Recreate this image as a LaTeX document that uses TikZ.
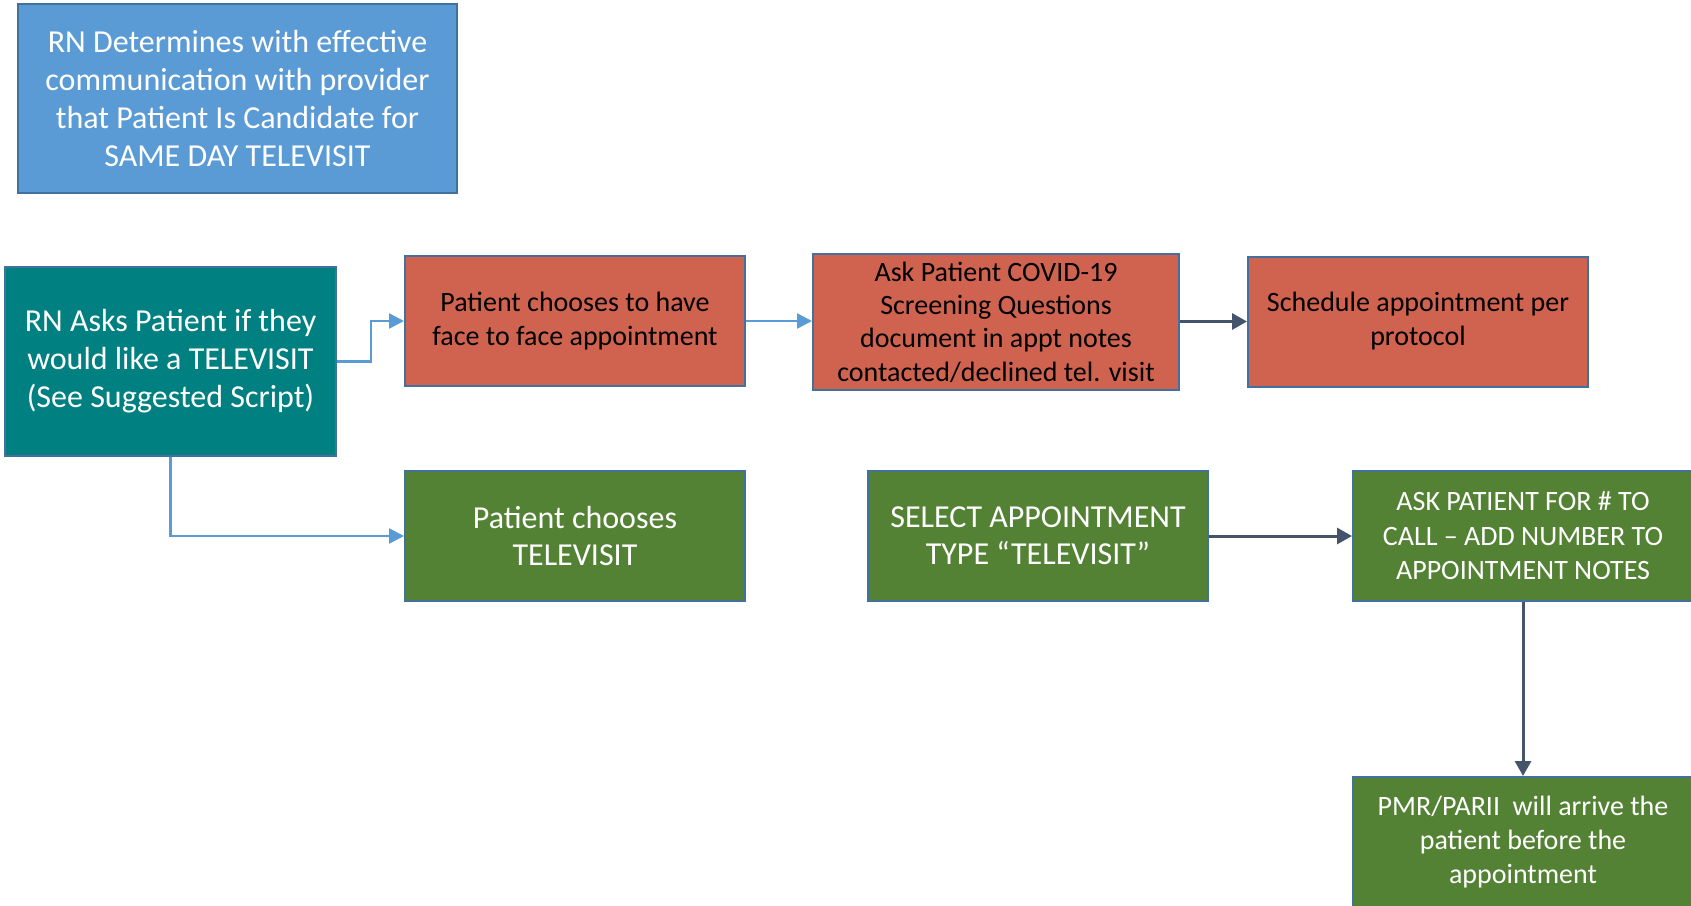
\documentclass[tikz,border=0pt]{standalone}
\usepackage{fontspec}
\setmainfont{Carlito}
\usepackage{tikz}
\usetikzlibrary{arrows.meta}
\definecolor{boxedge}{HTML}{41719C}
\definecolor{rnblue}{HTML}{5B9BD5}
\definecolor{rnteal}{HTML}{008080}
\definecolor{facered}{HTML}{D0634F}
\definecolor{telegreen}{HTML}{548235}
\definecolor{darkline}{HTML}{44546A}

\begin{document}
\begin{tikzpicture}[x=0.5pt,y=-0.5pt,
  box/.style={draw=boxedge, line width=1pt, inner sep=0pt, align=center,
    minimum width=170pt, minimum height=65pt},
  bluebox/.style={box, fill=rnblue, text=white, font=\fontsize{16}{19}\selectfont},
  tealbox/.style={box, fill=rnteal, text=white, font=\fontsize{16}{19}\selectfont},
  redbox/.style={box, fill=facered, text=black, font=\fontsize{14}{17}\selectfont},
  greenbox/.style={box, fill=telegreen, text=white, font=\fontsize{16}{18.5}\selectfont},
  smallgreen/.style={box, fill=telegreen, text=white, font=\fontsize{14}{17}\selectfont},
  lightarrow/.style={draw=rnblue, line width=1.2pt, -{Triangle[length=7.5pt,width=7.5pt]}},
  darkarrow/.style={draw=darkline, line width=1.5pt, -{Triangle[length=7.5pt,width=8pt]}}]
\useasboundingbox (0,0) rectangle (1691,905);
\node (candidate) at (237.5,98.5) [bluebox, minimum width=219.5pt, minimum height=94.5pt]
  {RN Determines with effective\\communication with provider\\that Patient Is Candidate for\\SAME DAY TELEVISIT};
\node (asks) at (170.5,361.5) [tealbox, minimum width=165.5pt, minimum height=94.5pt]
  {RN Asks Patient if they\\would like a TELEVISIT\\(See Suggested Script)};
\node (face) at (575,321) [redbox] {Patient chooses to have\\face to face appointment};
\node (screen) at (996,322) [redbox, minimum width=183pt, minimum height=68pt,
  font=\fontsize{14}{16.7}\selectfont]
  {Ask Patient COVID-19\\Screening Questions\\document in appt notes\\contacted/declined tel. visit};
\node (schedule) at (1418,321.5) [redbox] {Schedule appointment per\\protocol};
\node (tele) at (575,536) [greenbox] {Patient chooses\\TELEVISIT};
\node (select) at (1038,536) [greenbox] {SELECT APPOINTMENT\\TYPE “TELEVISIT”};
\node (phone) at (1523,536) [smallgreen, font=\fontsize{14}{17.25}\selectfont]
  {ASK PATIENT FOR \# TO\\CALL – ADD NUMBER TO\\APPOINTMENT NOTES};
\node (arrive) at (1523,842) [smallgreen]
  {PMR/PARII\ \ will arrive the\\patient before the\\appointment};
% connectors
\draw[lightarrow] (asks.east) -- ++(34,0) |- (face.west);
\draw[lightarrow] (asks.south) |- (tele.west);
\draw[lightarrow] (face.east) -- (face.east -| screen.west);
\draw[darkarrow] (screen.east |- schedule.west) -- (schedule.west);
\draw[darkarrow] (select.east) -- (phone.west);
\draw[darkarrow] (phone.south) -- (arrive.north);
\end{tikzpicture}
\end{document}
